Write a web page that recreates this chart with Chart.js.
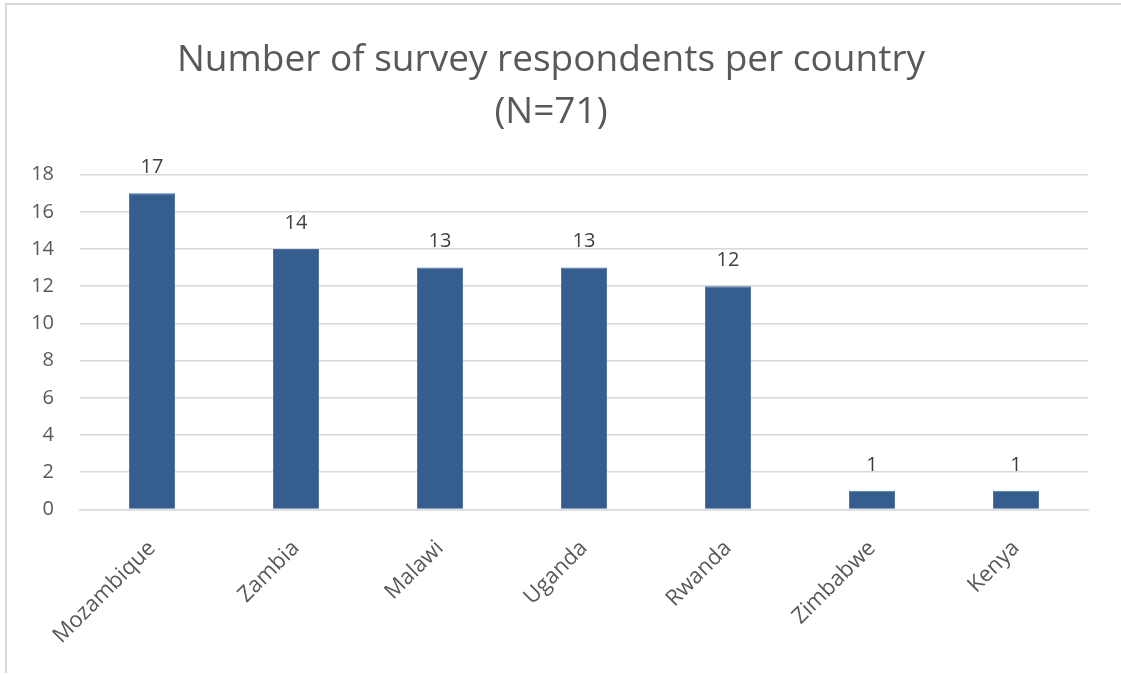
<!DOCTYPE html>
<html>
<head>
<meta charset="utf-8">
<script src="https://cdn.jsdelivr.net/npm/chart.js@4/dist/chart.umd.min.js"></script>
<style>
  html, body { margin: 0; padding: 0; background: #ffffff; }
  #wrap { width: 1121px; height: 675px; position: relative; }
</style>
</head>
<body>
<div id="wrap"><canvas id="chart" width="1121" height="675"></canvas></div>
<script>
// Survey respondents by country
const countries = ['Mozambique', 'Zambia', 'Malawi', 'Uganda', 'Rwanda', 'Zimbabwe', 'Kenya'];
const respondents = [17, 14, 13, 13, 12, 1, 1];
const titleLines = ['Number of survey respondents per country', '(N=71)'];

const FONT = "'Open Sans', 'Liberation Sans', sans-serif";
const TEXT = '#595959';

// Light frame along the top and left edges of the chart area
const framePlugin = {
  id: 'frame',
  beforeDraw(chart) {
    const ctx = chart.ctx;
    ctx.save();
    ctx.fillStyle = '#ffffff';
    ctx.fillRect(0, 0, chart.width, chart.height);
    ctx.strokeStyle = '#d9d9d9';
    ctx.lineWidth = 2;
    ctx.beginPath();
    ctx.moveTo(6, chart.height - 2);
    ctx.lineTo(6, 4);
    ctx.lineTo(chart.width, 4);
    ctx.stroke();
    ctx.restore();
  }
};

// Value labels above each bar
const valueLabels = {
  id: 'valueLabels',
  afterDatasetsDraw(chart) {
    const ctx = chart.ctx;
    const meta = chart.getDatasetMeta(0);
    ctx.save();
    ctx.font = '20px ' + FONT;
    ctx.fillStyle = '#404040';
    ctx.textAlign = 'center';
    ctx.textBaseline = 'bottom';
    meta.data.forEach((bar, i) => {
      ctx.fillText(String(chart.data.datasets[0].data[i]), bar.x, bar.y - 16);
    });
    ctx.restore();
  }
};

new Chart(document.getElementById('chart'), {
  type: 'bar',
  data: {
    labels: countries,
    datasets: [{
      data: respondents,
      backgroundColor: '#355e8f',
      borderColor: '#4a72a3',
      borderWidth: 1,
      barPercentage: 0.64,
      categoryPercentage: 0.5
    }]
  },
  options: {
    responsive: false,
    animation: false,
    devicePixelRatio: 1,
    layout: { padding: { left: 14, right: 33, top: 35, bottom: 8 } },
    plugins: {
      legend: { display: false },
      tooltip: { enabled: false },
      title: {
        display: true,
        text: titleLines,
        color: TEXT,
        font: { family: FONT, size: 37, weight: 'normal', lineHeight: 1.4 },
        padding: { top: 0, bottom: 36 }
      }
    },
    scales: {
      x: {
        grid: { display: false },
        border: { display: true, color: '#d9d9d9', width: 1.5 },
        ticks: {
          color: TEXT,
          font: { family: FONT, size: 22 },
          minRotation: 45,
          maxRotation: 45,
          padding: 18
        }
      },
      y: {
        min: 0,
        max: 18,
        afterFit(scale) { scale.width = 66; },
        grid: { color: '#d9d9d9', lineWidth: 1.5, drawTicks: false },
        border: { display: false },
        ticks: {
          stepSize: 2,
          color: TEXT,
          font: { family: FONT, size: 20 },
          padding: 26
        }
      }
    }
  },
  plugins: [framePlugin, valueLabels]
});
</script>
</body>
</html>
